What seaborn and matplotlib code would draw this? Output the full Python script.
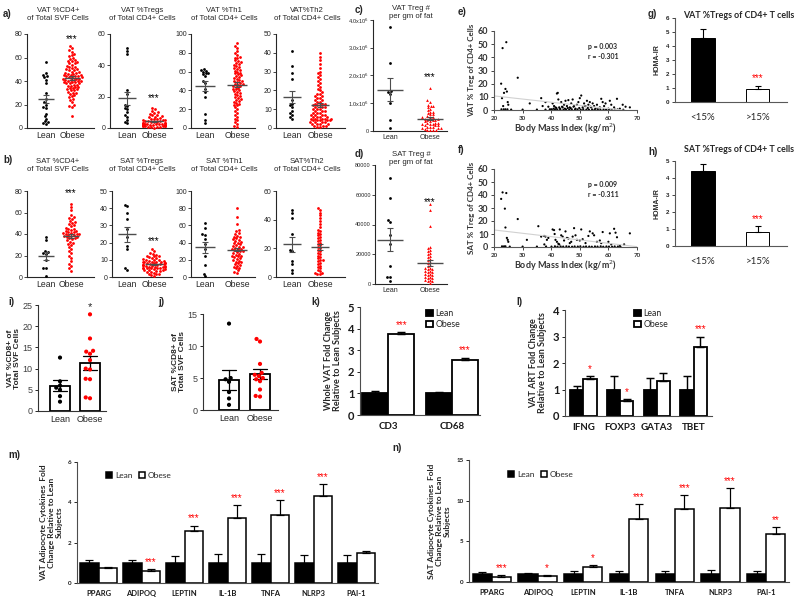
import numpy as np
import pandas as pd
import seaborn as sns
import matplotlib.pyplot as plt

# ---- panel a / b : GraphPad style dot plots ----
groups = ['Lean', 'Obese']

vat_cd4_lean = [56, 47, 45, 44, 43, 41, 38, 30, 25, 22, 20, 18, 17, 12, 10, 8, 6, 4, 3, 5]
vat_cd4_obese = [70, 68, 66, 65, 63, 62, 61, 60, 59, 58, 57, 57, 56, 55, 55, 54, 53, 52, 52, 51,
                 50, 50, 49, 49, 48, 48, 47, 47, 46, 46, 45, 45, 45, 44, 44, 44, 43, 43, 43, 42,
                 42, 42, 41, 41, 41, 40, 40, 40, 39, 39, 39, 38, 38, 38, 37, 37, 36, 36, 35, 35,
                 34, 34, 33, 33, 32, 32, 31, 30, 30, 29, 28, 27, 26, 25, 24, 22, 20, 19, 18, 10]
vat_treg_lean = [51, 49, 47, 24, 22, 15, 14, 13, 12, 10, 8, 7, 5, 4, 3]
vat_treg_obese = [13, 12, 11, 10, 9.6, 9, 8.6, 8, 7.6, 7.2, 6.8, 6.4, 6, 5.8, 5.5, 5.2, 5, 4.8, 4.6, 4.4,
                  4.2, 4, 3.8, 3.6, 3.4, 3.2, 3, 2.9, 2.8, 2.7, 2.6, 2.5, 2.4, 2.3, 2.2, 2.1, 2, 1.9, 1.8, 1.7,
                  1.6, 1.5, 1.4, 1.3, 1.2, 1.1, 1, 0.9, 0.8, 0.6, 0.4, 0.2]
vat_th1_lean = [63, 62, 61, 60, 59, 58, 57, 55, 50, 48, 42, 38, 33, 15, 8, 5]
vat_th1_obese = [90, 87, 85, 82, 80, 78, 76, 75, 74, 72, 71, 70, 69, 68, 67, 66, 65, 64, 63, 62,
                 61, 60, 59, 58, 57, 56, 55, 54, 53, 52, 51, 50, 50, 49, 48, 47, 47, 46, 45, 45,
                 44, 43, 42, 41, 40, 39, 38, 37, 36, 35, 34, 33, 32, 31, 30, 29, 28, 27, 26, 25,
                 24, 22, 20, 18, 16, 14, 12, 10, 8, 6, 4, 2, 1]
vat_th2_lean = [41, 33, 29, 26, 15, 13, 12, 11, 9, 8, 7, 6, 5]
vat_th2_obese = [40, 38, 36, 34, 32, 30, 29, 28, 27, 26, 25, 24, 23, 22, 21, 20, 19, 18, 18, 17,
                 17, 16, 16, 15, 15, 14, 14, 13, 13, 13, 12, 12, 12, 11, 11, 11, 10, 10, 10, 9,
                 9, 9, 8, 8, 8, 7, 7, 7, 7, 6, 6, 6, 6, 5, 5, 5, 5, 5, 4, 4,
                 4, 4, 4, 3, 3, 3, 3, 2, 2, 2, 2, 1, 1, 1, 0.5, 0.5]

sat_cd4_lean = [37, 34, 24, 23, 22, 21, 16, 8, 8, 1]
sat_cd4_obese = [68, 65, 62, 58, 56, 55, 54, 52, 51, 50, 49, 48, 47, 46, 45, 45, 44, 43, 43, 42,
                 42, 41, 41, 40, 40, 40, 39, 39, 38, 38, 37, 37, 36, 36, 35, 34, 33, 32, 31, 30,
                 28, 26, 24, 22, 20, 18, 15, 12, 10, 8, 6]
sat_treg_lean = [42, 41, 37, 34, 28, 23, 18, 16, 5, 4]
sat_treg_obese = [16, 15, 14, 13.5, 13, 12.5, 12, 12, 11.5, 11, 11, 10.5, 10, 10, 10, 9.5, 9.5, 9, 9, 9,
                  8.5, 8.5, 8, 8, 8, 8, 7.5, 7.5, 7.5, 7, 7, 7, 7, 6.5, 6.5, 6.5, 6, 6, 6, 6,
                  5.5, 5.5, 5.5, 5, 5, 5, 4.5, 4.5, 4, 4, 4, 3.5, 3.5, 3, 3, 2.5, 2, 2, 1.5, 1, 0.5]
sat_th1_lean = [63, 57, 50, 49, 44, 38, 33, 25, 14, 4, 1]
sat_th1_obese = [80, 70, 62, 55, 53, 51, 50, 48, 47, 46, 45, 44, 43, 42, 41, 40, 39, 38, 37, 36,
                 35, 35, 34, 33, 33, 32, 31, 30, 30, 29, 28, 27, 26, 25, 25, 24, 23, 22, 21, 20,
                 19, 18, 17, 16, 15, 14, 13, 12, 11, 10, 8, 6, 5]
sat_th2_lean = [47, 45, 41, 30, 19, 18, 11, 9, 5, 3]
sat_th2_obese = [48, 47, 45, 43, 41, 39, 37, 35, 33, 32, 31, 30, 29, 28, 27, 26, 25, 24, 23, 22,
                 21, 20, 19, 18, 17, 16, 15, 14, 13, 12, 12, 11, 10, 9, 8, 7, 6, 5, 4, 3, 3, 2, 2]

# ---- panel c / d : Treg per gram of fat ----
vat_tregnum_lean = [3.75e6, 2.45e6, 1.45e6, 1.40e6, 1.32e6, 1.0e6, 0.4e6, 0.12e6]
vat_tregnum_obese = [1.55e6, 1.1e6, 1.05e6, 0.95e6, 0.9e6, 0.9e6, 0.85e6, 0.8e6, 0.75e6, 0.7e6,
                     0.7e6, 0.65e6, 0.6e6, 0.6e6, 0.55e6, 0.5e6, 0.5e6, 0.5e6, 0.45e6, 0.45e6,
                     0.4e6, 0.4e6, 0.4e6, 0.35e6, 0.35e6, 0.3e6, 0.3e6, 0.3e6, 0.25e6, 0.25e6,
                     0.25e6, 0.2e6, 0.2e6, 0.2e6, 0.15e6, 0.15e6, 0.15e6, 0.1e6, 0.1e6, 0.1e6,
                     0.08e6, 0.05e6, 0.05e6, 0.03e6, 0.02e6]
sat_tregnum_lean = [71000, 58000, 43000, 42000, 33000, 27000, 12000, 5000, 5000, 2000]
sat_tregnum_obese = [54000, 50000, 39000, 25000, 24000, 23000, 22000, 21000, 20000, 19000,
                     18000, 17000, 16000, 15000, 14000, 13000, 12000, 11000, 11000, 10000,
                     10000, 9000, 9000, 8000, 8000, 7000, 7000, 6000, 6000, 5000,
                     5000, 4000, 4000, 3000, 3000, 2000, 2000, 1000]

# ---- panel e / f : BMI correlation ----
bmi_e = [22.5, 22.8, 23.0, 23.5, 24.0, 24.3, 24.5, 24.8, 25.0, 23.2,
         22.6, 23.4, 24.0, 24.7, 28.3, 32.5, 36.5, 37.0, 38.0, 39.0,
         40.0, 40.5, 41.0, 41.5, 42.0, 42.3, 42.5, 43.0, 43.5, 44.0,
         44.5, 45.0, 45.5, 46.0, 46.5, 47.0, 47.5, 48.0, 48.5, 49.0,
         49.5, 50.0, 50.5, 51.0, 51.5, 52.0, 52.5, 53.0, 53.5, 54.0,
         54.5, 55.0, 55.5, 56.0, 57.0, 57.5, 58.0, 58.5, 59.0, 60.0,
         60.5, 61.0, 62.0, 63.0, 64.0, 65.0, 66.0, 67.5, 26.0, 30.0,
         35.0, 38.0, 39.5, 40.2, 41.3, 42.1, 43.2, 44.3, 45.2, 46.3,
         47.2, 48.3, 49.2, 50.3, 51.2, 52.3, 53.2, 54.3, 55.2, 56.3,
         57.2, 58.3, 59.2, 60.3, 61.2, 62.3, 63.2, 65.2, 41.8, 43.8,
         45.8, 47.8, 49.8, 51.8, 52.8, 53.8, 40.8, 42.8, 44.8, 46.8]
treg_e = [20.0, 9.0, 47.0, 13.0, 16.0, 51.5, 14.0, 6.0, 4.0, 3.0,
          0.5, 0.5, 0.5, 0.5, 24.5, 5.0, 9.0, 3.0, 6.0, 2.5,
          0.5, 5.0, 3.0, 2.0, 12.5, 13.0, 8.0, 1.0, 6.0, 2.0,
          4.0, 7.0, 3.0, 7.5, 2.0, 5.0, 8.0, 3.0, 1.0, 4.0,
          6.0, 9.0, 11.0, 2.0, 5.0, 3.0, 7.0, 4.0, 6.0, 2.0,
          5.0, 3.0, 1.0, 4.0, 2.0, 8.5, 6.0, 3.0, 5.0, 1.0,
          7.0, 4.0, 2.0, 8.5, 1.0, 4.0, 2.5, 2.0, 0.3, 0.3,
          0.3, 0.3, 0.5, 0.2, 0.4, 0.3, 0.6, 0.2, 0.4, 0.3,
          0.5, 0.2, 0.4, 0.3, 0.6, 0.3, 0.2, 0.4, 0.3, 0.5,
          0.2, 0.4, 0.3, 0.5, 0.2, 0.3, 0.4, 0.2, 1.5, 2.5,
          1.5, 2.5, 1.5, 3.0, 1.5, 2.5, 1.0, 2.0, 1.0, 1.5]
bmi_f = [22.5, 23.0, 24.3, 23.8, 24.0, 24.5, 24.8, 25.0, 22.8, 23.5,
         24.0, 28.3, 31.5, 35.5, 36.5, 37.5, 38.0, 38.5, 39.0, 37.6,
         40.5, 41.0, 41.2, 41.5, 42.0, 42.5, 43.0, 43.5, 44.0, 44.5,
         45.0, 45.5, 46.0, 46.5, 47.0, 47.5, 48.0, 48.5, 49.0, 50.0,
         50.5, 51.0, 52.0, 53.0, 53.5, 54.5, 55.0, 56.0, 57.0, 57.5,
         58.0, 60.0, 60.5, 61.0, 62.0, 62.5, 63.0, 64.0, 65.5, 67.5,
         25.5, 30.0, 35.0, 38.2, 40.1, 41.3, 42.2, 43.3, 44.2, 45.3,
         46.2, 47.3, 48.2, 49.3, 50.2, 51.3, 52.2, 53.3, 54.2, 55.3,
         56.2, 57.3, 58.2, 59.3, 60.2, 61.3, 62.2, 63.3, 64.2, 42.8]
treg_f = [37.0, 42.0, 41.5, 29.5, 15.0, 7.0, 5.5, 4.0, 0.5, 0.5,
          0.5, 21.5, 5.5, 16.0, 8.0, 8.5, 8.0, 5.5, 7.0, 2.0,
          13.5, 13.0, 10.0, 5.5, 4.0, 2.5, 13.5, 9.0, 8.0, 5.0,
          12.0, 7.0, 6.5, 3.0, 4.0, 8.0, 14.5, 9.0, 5.5, 5.0,
          13.5, 6.0, 3.0, 8.5, 12.0, 10.5, 9.0, 4.0, 5.0, 3.0,
          11.5, 4.0, 10.5, 2.0, 14.0, 11.0, 7.5, 1.0, 2.0, 10.5,
          0.3, 0.3, 0.3, 0.4, 0.3, 0.5, 0.2, 0.4, 0.3, 0.5,
          0.3, 0.2, 0.4, 0.3, 0.5, 0.2, 0.4, 0.3, 0.2, 0.4,
          0.3, 0.5, 0.2, 0.4, 0.3, 0.2, 0.4, 0.3, 0.2, 2.0]

# ---- panel g / h : HOMA-IR ----
homa_groups = ['<15%', '>15%']
vat_homa = [4.55, 0.9]
vat_homa_err = [0.65, 0.25]
sat_homa = [4.4, 0.85]
sat_homa_err = [0.45, 0.3]

# ---- panel i / j : CD8 ----
vat_cd8_lean = [12.6, 7.0, 6.0, 5.5, 5.0, 3.5, 2.2]
vat_cd8_obese = [22.8, 17.1, 14.2, 14.0, 13.5, 12.0, 10.0, 9.8, 7.5, 7.6, 3.0, 3.2]
sat_cd8_lean = [13.5, 5.0, 4.8, 4.4, 2.8, 1.8, 0.8]
sat_cd8_obese = [11.1, 10.7, 7.2, 5.8, 5.5, 5.3, 5.0, 4.8, 4.5, 3.2, 2.1, 2.2]

# ---- panel k / l ----
k_genes = ['CD3', 'CD68']
k_lean = [1.0, 1.0]
k_lean_err = [0.12, 0.07]
k_obese = [3.75, 2.55]
k_obese_err = [0.07, 0.11]
k_stars = ['***', '***']

l_genes = ['IFNG', 'FOXP3', 'GATA3', 'TBET']
l_lean = [1.0, 1.0, 1.0, 1.0]
l_lean_err = [0.15, 0.5, 0.43, 0.5]
l_obese = [1.4, 0.55, 1.32, 2.6]
l_obese_err = [0.12, 0.1, 0.3, 0.4]
l_stars = ['*', '*', '', '***']

# ---- panel m / n : adipocyte cytokines ----
cyto_genes = ['PPARG', 'ADIPOQ', 'LEPTIN', 'IL-1B', 'TNFA', 'NLRP3', 'PAI-1']
m_lean = [1.0, 1.0, 1.0, 1.0, 1.0, 1.0, 1.0]
m_lean_err = [0.15, 0.15, 0.32, 0.45, 0.45, 0.4, 0.4]
m_obese = [0.72, 0.6, 2.6, 3.2, 3.35, 4.3, 1.48]
m_obese_err = [0.08, 0.08, 0.25, 0.65, 0.75, 0.6, 0.12]
m_stars = ['', '***', '***', '***', '***', '***', '']
n_lean = [1.0, 1.0, 1.0, 1.0, 1.0, 1.0, 1.0]
n_lean_err = [0.25, 0.15, 0.3, 0.4, 0.3, 0.5, 0.4]
n_obese = [0.65, 0.75, 1.8, 7.7, 9.0, 9.1, 5.9]
n_obese_err = [0.15, 0.15, 0.3, 1.9, 1.7, 2.4, 0.85]
n_stars = ['***', '*', '*', '***', '***', '***', '**']


sns.set_theme(style='ticks')
plt.rcParams['font.family'] = ['Liberation Sans', 'DejaVu Sans']
plt.rcParams['axes.linewidth'] = 0.8

W, H = 798, 600
fig = plt.figure(figsize=(W / 100, H / 100), dpi=100)
XL = 'Lato'  # calibri-like font for the excel panels


def add_ax(left, top, right, bottom):
    return fig.add_axes([left / W, 1 - bottom / H, (right - left) / W, (bottom - top) / H])


def ftext(x, y, s, **kw):
    fig.text(x / W, 1 - y / H, s, **kw)


def cat_xlim(ax, left, right, p0, p1, n=2):
    unit = (p1 - p0) / (n - 1)
    ax.set_xlim(-(p0 - left) / unit, (n - 1) + (right - p1) / unit)


def clean(ax, color='0.15'):
    sns.despine(ax=ax)
    for s in ['left', 'bottom']:
        ax.spines[s].set_color(color)
    ax.set_xlabel('')
    ax.set_ylabel('')


def dot_panel(box, centers, lean, obese, yticks, star, star_y, tri=False, ylabels=None):
    L, T, R, B = box
    ax = add_ax(L, T, R, B)
    for grp, vals, col in [('Lean', lean, 'black'), ('Obese', obese, 'red')]:
        df = pd.DataFrame({'group': grp, 'value': vals})
        mk = '^' if (tri and grp == 'Obese') else 'o'
        sns.swarmplot(data=df, x='group', y='value', order=groups, color=col, marker=mk,
                      size=2.0, linewidth=0, ax=ax, warn_thresh=1)
    for i, vals in enumerate([lean, obese]):
        v = np.asarray(vals, float)
        m = v.mean()
        se = v.std(ddof=1) / np.sqrt(len(v))
        ax.hlines(m, i - 0.32, i + 0.32, color='0.3', lw=1.0, zorder=5)
        ax.errorbar(i, m, yerr=se, color='0.3', lw=0.8, capsize=2.5, capthick=0.8, zorder=5)
    for c in ax.collections:
        c.set_clip_on(False)
    cat_xlim(ax, L, R, centers[0], centers[1])
    ax.set_ylim(yticks[0], yticks[-1])
    ax.set_yticks(yticks)
    if ylabels is not None:
        ax.set_yticklabels(ylabels)
    ax.tick_params(axis='y', labelsize=5, length=2, width=0.6, pad=1)
    ax.tick_params(axis='x', labelsize=6.2, length=0, pad=2)
    clean(ax)
    if star:
        ax.text(1, star_y, star, ha='center', va='center', fontsize=7, color='black')
    return ax


# ---- row a ----
ftext(3, 14, 'a)', fontsize=7, fontweight='bold', va='center')
dot_panel((27, 34, 94, 128), (46, 72), vat_cd4_lean, vat_cd4_obese, [0, 20, 40, 60, 80], '***', 76)
ftext(58, 14, 'VAT %CD4+\nof Total SVF Cells', fontsize=5.6, ha='center', va='center', linespacing=1.2)
dot_panel((110, 34, 172, 128), (127, 154), vat_treg_lean, vat_treg_obese, [0, 20, 40, 60], '***', 19)
ftext(142, 14, 'VAT %Tregs\nof Total CD4+ Cells', fontsize=5.6, ha='center', va='center', linespacing=1.2)
dot_panel((191, 34, 255, 128), (205, 237), vat_th1_lean, vat_th1_obese, [0, 20, 40, 60, 80, 100], '', 0)
ftext(224, 14, 'VAT %Th1\nof Total CD4+ Cells', fontsize=5.6, ha='center', va='center', linespacing=1.2)
dot_panel((276, 34, 345, 128), (292, 320), vat_th2_lean, vat_th2_obese, [0, 10, 20, 30, 40, 50], '', 0)
ftext(307, 14, 'VAT%Th2\nof Total CD4+ Cells', fontsize=5.6, ha='center', va='center', linespacing=1.2)

# ---- row b ----
ftext(3, 160, 'b)', fontsize=7, fontweight='bold', va='center')
dot_panel((27, 191, 94, 277), (46, 71), sat_cd4_lean, sat_cd4_obese, [0, 20, 40, 60, 80], '***', 78)
ftext(58, 166, 'SAT %CD4+\nof Total SVF Cells', fontsize=5.6, ha='center', va='center', linespacing=1.2)
dot_panel((112, 191, 172, 277), (127, 154), sat_treg_lean, sat_treg_obese, [0, 10, 20, 30, 40, 50], '***', 21)
ftext(142, 166, 'SAT %Tregs\nof Total CD4+ Cells', fontsize=5.6, ha='center', va='center', linespacing=1.2)
dot_panel((191, 191, 255, 277), (205, 237), sat_th1_lean, sat_th1_obese, [0, 20, 40, 60, 80, 100], '', 0)
ftext(224, 166, 'SAT %Th1\nof Total CD4+ Cells', fontsize=5.6, ha='center', va='center', linespacing=1.2)
dot_panel((276, 191, 345, 277), (292, 320), sat_th2_lean, sat_th2_obese, [0, 20, 40, 60], '', 0)
ftext(307, 166, 'SAT%Th2\nof Total CD4+ Cells', fontsize=5.6, ha='center', va='center', linespacing=1.2)

# ---- c / d ----
ftext(355, 10, 'c)', fontsize=7, fontweight='bold', va='center')
ax_c = dot_panel((373, 20, 447, 131), (390, 430), vat_tregnum_lean, vat_tregnum_obese,
                 [0, 1e6, 2e6, 3e6, 4e6], '***', 1.95e6, tri=True,
                 ylabels=['0', r'1.0x10$^6$', r'2.0x10$^6$', r'3.0x10$^6$', r'4.0x10$^6$'])
ax_c.tick_params(axis='y', labelsize=4)
ax_c.tick_params(axis='x', labelsize=5)
ftext(411, 12, 'VAT Treg #\nper gm of fat', fontsize=5.6, ha='center', va='center', linespacing=1.2)
ftext(355, 154, 'd)', fontsize=7, fontweight='bold', va='center')
ax_d = dot_panel((375, 165, 447, 284), (390, 430), sat_tregnum_lean, sat_tregnum_obese,
                 [0, 20000, 40000, 60000, 80000], '***', 55000, tri=True)
ax_d.tick_params(axis='y', labelsize=4)
ax_d.tick_params(axis='x', labelsize=5)
ftext(411, 158, 'SAT Treg #\nper gm of fat', fontsize=5.6, ha='center', va='center', linespacing=1.2)


# ---- e / f scatter ----
def bmi_panel(box, bmi, treg, ylab, ptext):
    ax = add_ax(*box)
    ax.set_xlim(20, 70)
    ax.set_ylim(0, 60)
    sns.scatterplot(x=bmi, y=treg, s=2.5, color='black', edgecolor='none', ax=ax)
    sns.regplot(x=bmi, y=treg, scatter=False, ci=None, truncate=False, color='0.82',
                line_kws={'lw': 0.8}, ax=ax)
    for c in ax.collections:
        c.set_clip_on(False)
    ax.set_xlim(20, 70)
    ax.set_ylim(0, 60)
    ax.set_yticks(range(0, 61, 10))
    ax.set_xticks(range(20, 71, 10))
    for lab in ax.get_yticklabels():
        lab.set_fontfamily(XL)
        lab.set_fontweight('bold')
    for lab in ax.get_xticklabels():
        lab.set_fontfamily(XL)
        lab.set_fontweight('bold')
    ax.tick_params(axis='y', labelsize=6.5, length=2, width=0.6, pad=2, labelcolor='0.2')
    ax.tick_params(axis='x', labelsize=4.5, length=2, width=0.6, pad=2, labelcolor='0.2')
    clean(ax, color='0.35')
    ax.set_xlabel('Body Mass Index (kg/m$^2$)', fontsize=6.5, fontfamily=XL, fontweight='bold',
                  color='0.2', labelpad=1)
    ax.set_ylabel(ylab, fontsize=5.8, fontfamily=XL, fontweight='bold', color='0.2', labelpad=2)
    ax.text(0.66, 0.85, ptext, transform=ax.transAxes, fontsize=5, fontfamily=XL,
            fontweight='bold', va='top', linespacing=1.5, color='0.15')
    return ax


ftext(458, 12, 'e)', fontsize=7, fontweight='bold', va='center')
bmi_panel((494, 31, 637, 110), bmi_e, treg_e, 'VAT % Treg of CD4+ Cells', 'p = 0.003\nr = -0.301')
ftext(458, 150, 'f)', fontsize=7, fontweight='bold', va='center')
bmi_panel((494, 169, 637, 247), bmi_f, treg_f, 'SAT % Treg of CD4+ Cells', 'p = 0.009\nr = -0.311')


# ---- g / h HOMA-IR bars ----
def homa_panel(box, vals, errs, ymax, title, title_y):
    ax = add_ax(*box)
    sns.barplot(x=homa_groups, y=vals, hue=homa_groups, palette={'<15%': 'black', '>15%': 'white'},
                edgecolor='black', linewidth=0.7, width=0.42, legend=False, ax=ax)
    bars = [p for p in ax.patches]
    for bar, e in zip(bars, errs):
        x = bar.get_x() + bar.get_width() / 2
        ax.errorbar(x, bar.get_height(), yerr=[[0], [e]], color='black', lw=0.8,
                    capsize=2.5, capthick=0.8)
    top = vals[1] + errs[1]
    ax.annotate('***', (bars[1].get_x() + bars[1].get_width() / 2, top), xytext=(0, 2),
                textcoords='offset points', ha='center', va='bottom', color='red', fontsize=7)
    ax.set_xlim(-0.51, 1.53)
    ax.set_ylim(0, ymax)
    ax.set_yticks(range(0, ymax + 1))
    for lab in ax.get_yticklabels():
        lab.set_fontweight('bold')
    ax.tick_params(axis='y', labelsize=4.5, length=2, width=0.6, pad=2)
    ax.tick_params(axis='x', labelsize=7, length=0, pad=8)
    for lab in ax.get_xticklabels():
        lab.set_fontfamily(XL)
    clean(ax, color='0.35')
    ax.set_ylabel('HOMA-IR', fontsize=5, fontweight='bold', labelpad=4)
    ftext(739, title_y, title, fontsize=6.4, fontfamily=XL, fontweight='bold', ha='center', va='center')
    return ax


ftext(648, 14, 'g)', fontsize=7, fontweight='bold', va='center')
homa_panel((675, 18, 787, 102), vat_homa, vat_homa_err, 6, 'VAT %Tregs of CD4+ T cells', 15)
ftext(648, 152, 'h)', fontsize=7, fontweight='bold', va='center')
homa_panel((675, 161, 787, 246), sat_homa, sat_homa_err, 5, 'SAT %Tregs of CD4+ T cells', 150)


# ---- i / j CD8 bars with points ----
def cd8_panel(box, centers, lean, obese, yticks, ylab, star):
    L, T, R, B = box
    ax = add_ax(L, T, R, B)
    df = pd.DataFrame({'group': ['Lean'] * len(lean) + ['Obese'] * len(obese),
                       'value': list(lean) + list(obese)})
    sns.barplot(data=df, x='group', y='value', order=groups, errorbar='se', color='white',
                edgecolor='black', linewidth=1.3, width=0.64, capsize=0.45,
                err_kws={'color': 'black', 'linewidth': 0.9}, ax=ax)
    sns.swarmplot(data=df, x='group', y='value', order=groups, hue='group',
                  palette={'Lean': 'black', 'Obese': 'red'}, size=3, linewidth=0,
                  legend=False, ax=ax)
    cat_xlim(ax, L, R, centers[0], centers[1])
    ax.set_ylim(yticks[0], yticks[-1])
    ax.set_yticks(yticks)
    ax.tick_params(axis='y', labelsize=6.5, length=2.5, width=0.7, pad=1.5, labelcolor='0.25')
    ax.tick_params(axis='x', labelsize=6.5, length=0, pad=3)
    clean(ax, color='0.2')
    ax.set_ylabel(ylab, fontsize=6, fontweight='bold', labelpad=1, linespacing=1.1)
    if star:
        ax.text(1, yticks[-1] - 0.5, star, ha='center', va='center', fontsize=8)
    return ax


ftext(8, 302, 'i)', fontsize=7, fontweight='bold', va='center')
cd8_panel((38, 305, 106, 411), (60, 90), vat_cd8_lean, vat_cd8_obese, [0, 5, 10, 15, 20, 25],
          'VAT %CD8+ of\nTotal SVF Cells', '*')
ftext(158, 302, 'j)', fontsize=7, fontweight='bold', va='center')
cd8_panel((203, 314, 278, 410), (229, 260), sat_cd8_lean, sat_cd8_obese, [0, 5, 10, 15],
          'SAT %CD8+ of\nTotal SVF Cells', '')


# ---- grouped fold-change bars ----
def fold_panel(box, genes, lean, lean_err, obese, obese_err, stars, ymax, ystep, width,
               ylab, ytick_fs, xtick_fs, ylab_fs, leg_xy, ncol, leg_fs, lw):
    L, T, R, B = box
    ax = add_ax(L, T, R, B)
    n = len(genes)
    df = pd.DataFrame({'gene': genes + genes,
                       'group': ['Lean'] * n + ['Obese'] * n,
                       'fold': lean + obese})
    sns.barplot(data=df, x='gene', y='fold', hue='group', order=genes,
                palette={'Lean': 'black', 'Obese': 'white'}, edgecolor='black',
                linewidth=lw, width=width, errorbar=None, ax=ax)
    conts = list(ax.containers)[:2]
    for cont, errs, is_ob in zip(conts, [lean_err, obese_err], [False, True]):
        for i, (bar, e) in enumerate(zip(cont, errs)):
            x = bar.get_x() + bar.get_width() / 2
            ax.errorbar(x, bar.get_height(), yerr=[[0], [e]], color='black', lw=lw * 0.8,
                        capsize=2.8, capthick=lw * 0.8)
            if is_ob and stars[i]:
                ax.annotate(stars[i], (x, bar.get_height() + e), xytext=(0, 1.5),
                            textcoords='offset points', ha='center', va='bottom',
                            color='red', fontsize=7)
    ax.set_xlim(-0.5 if n > 2 else -0.44, n - 0.5 if n > 2 else 1.44)
    ax.set_ylim(0, ymax)
    ax.set_yticks(np.arange(0, ymax + 0.01, ystep))
    ax.set_yticklabels([f'{v:g}' for v in np.arange(0, ymax + 0.01, ystep)])
    for lab in ax.get_yticklabels() + ax.get_xticklabels():
        lab.set_fontfamily(XL)
        lab.set_fontweight('bold')
    ax.tick_params(axis='y', labelsize=ytick_fs, length=2, width=0.7, pad=2, labelcolor='0.1')
    ax.tick_params(axis='x', labelsize=xtick_fs, length=0, pad=5, labelcolor='0.1')
    clean(ax, color='0.3')
    ax.set_ylabel(ylab, fontsize=ylab_fs, fontfamily=XL, fontweight='bold', color='0.15',
                  linespacing=1.1)
    ax.legend(loc='upper left', bbox_to_anchor=(leg_xy[0] / W, 1 - leg_xy[1] / H),
              bbox_transform=fig.transFigure, ncol=ncol, frameon=False,
              prop={'family': XL, 'size': leg_fs}, handlelength=0.75, handleheight=0.75,
              handletextpad=0.3, columnspacing=0.8, borderaxespad=0, borderpad=0,
              labelspacing=0.25)
    return ax


ftext(311, 302, 'k)', fontsize=7, fontweight='bold', va='center')
fold_panel((360, 307, 480, 415), k_genes, k_lean, k_lean_err, k_obese, k_obese_err, k_stars,
           5, 1, 0.82, 'Whole VAT Fold Change\nRelative to Lean Subjects', 8, 7, 6.5,
           (426, 309), 1, 6.3, 1.3)
ftext(516, 302, 'l)', fontsize=7, fontweight='bold', va='center')
fold_panel((565, 310, 712, 416), l_genes, l_lean, l_lean_err, l_obese, l_obese_err, l_stars,
           4, 1, 0.72, 'VAT ART Fold Change\nRelative to Lean Subjects', 8, 7, 6.5,
           (634, 309), 1, 6.3, 1.3)
ftext(8, 455, 'm)', fontsize=7, fontweight='bold', va='center')
fold_panel((77, 462, 378, 583), cyto_genes, m_lean, m_lean_err, m_obese, m_obese_err, m_stars,
           6, 2, 0.86, 'VAT Adipocyte Cytokines  Fold\nChange Relative to Lean\nSubjects',
           4.5, 5.5, 6, (106, 472), 2, 6, 1.1)
ftext(392, 448, 'n)', fontsize=7, fontweight='bold', va='center')
fold_panel((469, 460, 789, 582), cyto_genes, n_lean, n_lean_err, n_obese, n_obese_err, n_stars,
           15, 5, 0.84, 'SAT Adipocyte Cytokines  Fold\nChange Relative to Lean\nSubjects',
           4.5, 5.5, 6, (508, 471), 2, 6, 1.1)

fig.savefig('out.png', dpi=100)
